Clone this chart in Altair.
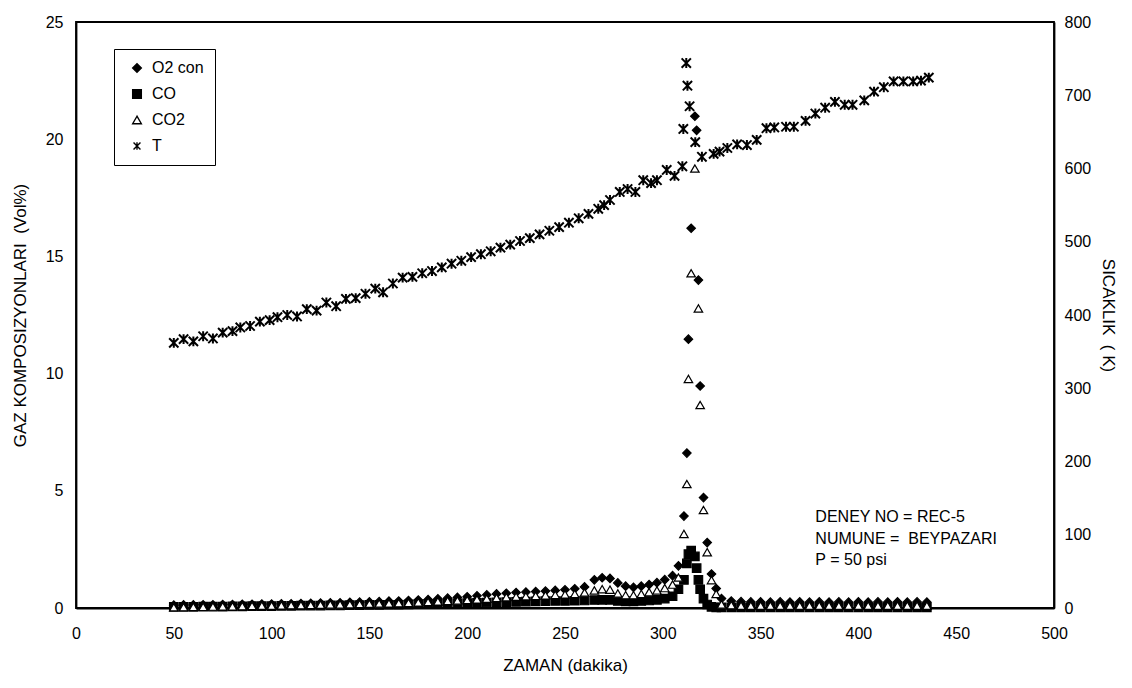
import altair as alt
import pandas as pd

# ---------------- data ----------------
# temperature series (right axis, K)
t_T = [50, 55, 60, 65, 70, 75, 80, 84, 89, 94, 99, 103,
       108, 113, 118, 123, 128, 133, 138, 143, 148, 153, 157, 162, 167,
       172, 177, 182, 187, 192, 197, 202, 207, 212, 217, 222, 227, 232,
       237, 242, 247, 252, 257, 262, 267, 270,
       273, 278, 282, 286, 290, 294, 297, 302, 306, 310,
       310.5, 312, 312.6, 313.7, 316.6, 320,
       326, 329, 333, 338, 343, 348, 353, 357, 363, 367, 373, 378, 383,
       388, 393, 397, 403, 408, 413, 418, 423, 428, 432, 436]
T_vals = [362, 367, 364, 371, 368, 376, 378, 383, 385, 391, 393, 397,
          400, 398, 408, 406, 417, 412, 422, 423, 429, 436, 431, 443, 451,
          452, 457, 460, 465, 470, 474, 479, 483, 487, 492, 496, 501, 505,
          510, 515, 520, 526, 532, 538, 545, 550,
          557, 568, 572, 568, 584, 580, 584, 598, 590, 603,
          654, 744, 713, 685, 636, 616,
          620, 623, 628, 633, 632, 639, 655, 656, 657, 657, 665, 675, 683,
          691, 687, 687, 693, 705, 711, 719, 719, 719, 720, 724]

# gas composition series (left axis, Vol%)
t_gas = [50, 55, 60, 65, 70, 75, 80, 85, 90, 95,
         100, 105, 110, 115, 120, 125, 130, 135, 140, 145,
         150, 155, 160, 165, 170, 175, 180, 185, 190, 195,
         200, 205, 210, 215, 220, 225, 230, 235, 240, 245,
         250, 255, 260, 265,
         269, 273, 277, 281, 285, 289, 293, 297, 301, 305, 308,
         310.8, 312.3, 313.1, 314.5, 316.4, 317.3, 318.2, 319.1, 320.8, 322.7, 324.9, 327.3,
         330, 335, 340, 345, 350, 355, 360, 365, 370, 375,
         380, 385, 390, 395, 400, 405, 410, 415, 420, 425, 430, 435]
o2_con = [0.12, 0.13, 0.13, 0.14, 0.14, 0.15, 0.15, 0.16, 0.16, 0.17,
          0.17, 0.18, 0.18, 0.19, 0.20, 0.21, 0.22, 0.22, 0.24, 0.25,
          0.26, 0.27, 0.29, 0.30, 0.32, 0.34, 0.36, 0.39, 0.42, 0.45,
          0.48, 0.52, 0.56, 0.60, 0.63, 0.66, 0.68, 0.70, 0.72, 0.75,
          0.78, 0.82, 0.90, 1.20,
          1.29, 1.26, 1.07, 0.93, 0.88, 0.93, 1.00, 1.08, 1.21, 1.38, 1.80,
          3.92, 6.61, 11.47, 16.2, 20.98, 20.38, 13.99, 9.47, 4.71, 2.79, 1.45, 0.83,
          0.40, 0.30, 0.27, 0.26, 0.26, 0.25, 0.26, 0.25, 0.26, 0.25,
          0.26, 0.25, 0.26, 0.25, 0.26, 0.25, 0.26, 0.25, 0.26, 0.25, 0.26, 0.25]
co = [0.05, 0.05, 0.05, 0.06, 0.06, 0.06, 0.07, 0.07, 0.08, 0.08,
      0.08, 0.09, 0.09, 0.10, 0.10, 0.10, 0.11, 0.11, 0.12, 0.12,
      0.13, 0.13, 0.14, 0.14, 0.15, 0.16, 0.17, 0.18, 0.19, 0.20,
      0.21, 0.22, 0.23, 0.24, 0.25, 0.26, 0.27, 0.28, 0.29, 0.30,
      0.30, 0.31, 0.32, 0.34,
      0.35, 0.35, 0.30, 0.28, 0.28, 0.30, 0.32, 0.35, 0.40, 0.50, 0.80,
      1.20, 1.90, 2.30, 2.45, 2.20, 1.70, 1.20, 0.80, 0.40, 0.15, 0.05, 0.02,
      0.03, 0.03, 0.03, 0.03, 0.03, 0.03, 0.03, 0.03, 0.03, 0.03,
      0.03, 0.03, 0.03, 0.03, 0.03, 0.03, 0.03, 0.03, 0.03, 0.03, 0.03, 0.03]
co2 = [0.03, 0.04, 0.05, 0.05, 0.06, 0.07, 0.07, 0.08, 0.09, 0.10,
       0.10, 0.11, 0.12, 0.12, 0.13, 0.14, 0.15, 0.15, 0.16, 0.17,
       0.18, 0.19, 0.20, 0.21, 0.22, 0.24, 0.26, 0.28, 0.30, 0.32,
       0.34, 0.37, 0.40, 0.43, 0.46, 0.48, 0.50, 0.52, 0.54, 0.56,
       0.58, 0.60, 0.66, 0.75,
       0.80, 0.78, 0.62, 0.55, 0.55, 0.60, 0.68, 0.75, 0.85, 1.00, 1.30,
       3.16, 5.29, 9.77, 14.28, 18.75, None, 12.78, 8.66, 4.18, 2.38, 1.19, 0.60,
       0.15, 0.12, 0.10, 0.10, 0.10, 0.10, 0.10, 0.10, 0.10, 0.10,
       0.10, 0.10, 0.10, 0.10, 0.10, 0.10, 0.10, 0.10, 0.10, 0.10, 0.10, 0.10]

series_names = ["O2 con", "CO", "CO2", "T"]
x_ticks = [0, 50, 100, 150, 200, 250, 300, 350, 400, 450, 500]
left_ticks = [0, 5, 10, 15, 20, 25]
right_ticks = [0, 100, 200, 300, 400, 500, 600, 700, 800]
NB = "\u00a0"
note_lines = ["DENEY NO = REC-5", "NUMUNE =" + NB + NB + "BEYPAZARI", "P = 50 psi"]
note_y = [3.9, 2.95, 2.05]
note_x = [378, 378, 378]

# ---------------- tables ----------------
rows = []
for name, vals in (("O2 con", o2_con), ("CO", co), ("CO2", co2)):
    for t, v in zip(t_gas, vals):
        if v is not None:
            rows.append({"t": t, "value": v, "series": name})
gas_df = pd.DataFrame(rows)
temp_df = pd.DataFrame({"t": t_T, "T": T_vals, "series": ["T"] * len(t_T)})
note_df = pd.DataFrame({"t": note_x, "value": note_y, "text": note_lines})

FONT = "Liberation Sans"
star = "M-0.8,-0.8L0.8,0.8M-0.8,0.8L0.8,-0.8M0,-0.85L0,0.85"

shape_scale = alt.Scale(domain=series_names,
                        range=["diamond", "square", "triangle-up", star])
fill_scale = alt.Scale(domain=series_names,
                       range=["black", "black", "white", "black"])
stroke_scale = alt.Scale(domain=series_names,
                         range=["black", "black", "black", "black"])
legend = alt.Legend(title=None, orient="none", legendX=38, legendY=27,
                    strokeColor="black", fillColor="white", padding=11,
                    labelFont=FONT, labelFontSize=16, labelColor="black",
                    symbolSize=75, symbolStrokeWidth=1.4, rowPadding=10,
                    labelOffset=7, symbolOffset=4)

x_enc = alt.X("t:Q", scale=alt.Scale(domain=[0, 500], nice=False),
              axis=alt.Axis(values=x_ticks, title="ZAMAN (dakika)",
                            grid=False, ticks=False, labelPadding=17,
                            titlePadding=16, labelFlush=False))
y_left = alt.Y("value:Q", scale=alt.Scale(domain=[0, 25], nice=False),
               axis=alt.Axis(values=left_ticks,
                             title="GAZ KOMPOSIZYONLARI" + NB + NB + "(Vol%)",
                             grid=False, ticks=False, labelPadding=13,
                             titlePadding=16))

gas = alt.Chart(gas_df).mark_point(filled=True, size=72, strokeWidth=1.2, opacity=1).encode(
    x=x_enc,
    y=y_left,
    shape=alt.Shape("series:N", scale=shape_scale, legend=legend),
    fill=alt.Fill("series:N", scale=fill_scale, legend=legend),
    stroke=alt.Stroke("series:N", scale=stroke_scale, legend=legend),
)

notes = alt.Chart(note_df).mark_text(align="left", baseline="middle",
                                      font=FONT, fontSize=16, color="black").encode(
    x=alt.X("t:Q"),
    y=y_left,
    text="text:N",
)

left = alt.layer(gas, notes)

temp = alt.Chart(temp_df).mark_point(filled=True, size=135, strokeWidth=2, opacity=1).encode(
    x=alt.X("t:Q"),
    y=alt.Y("T:Q", scale=alt.Scale(domain=[0, 800], nice=False),
            axis=alt.Axis(values=right_ticks, orient="right",
                          title="SICAKLIK" + NB + NB + "(" + NB + "K)", grid=False, ticks=False,
                          labelPadding=10, titlePadding=8)),
    shape=alt.Shape("series:N", scale=shape_scale, legend=legend),
    fill=alt.Fill("series:N", scale=fill_scale, legend=legend),
    stroke=alt.Stroke("series:N", scale=stroke_scale, legend=legend),
)

chart = alt.layer(left, temp).resolve_scale(y="independent").properties(
    width=978, height=586,
    autosize=alt.AutoSizeParams(type="none"),
    padding={"left": 68, "top": 14, "right": 70, "bottom": 72},
).configure_view(
    stroke="black", strokeWidth=1.8
).configure_axis(
    domainColor="black", domainWidth=1.8,
    labelFont=FONT, labelFontSize=16, labelColor="black",
    titleFont=FONT, titleFontSize=17, titleFontWeight="normal", titleColor="black",
)

chart.save("out.html", embed_options={"renderer": "svg", "actions": False})
